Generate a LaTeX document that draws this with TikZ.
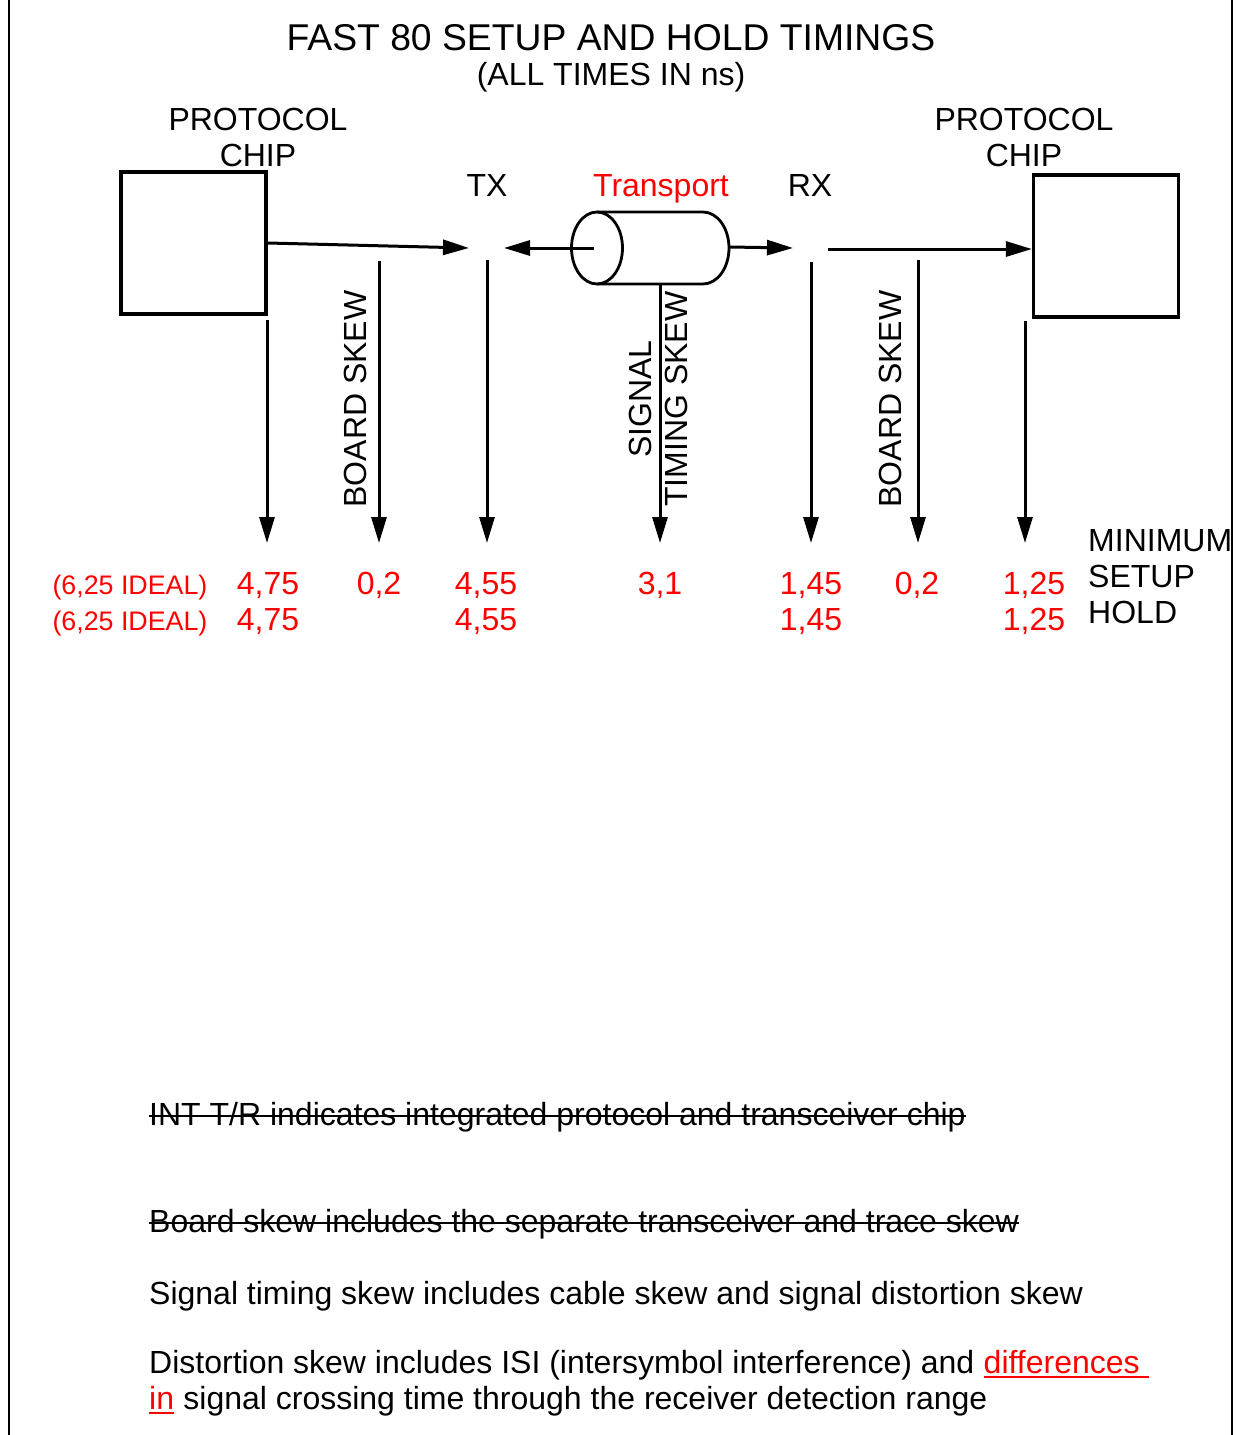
\documentclass[tikz,border=0pt]{standalone}
\usepackage{fontspec}
\setmainfont{Liberation Sans}
\usetikzlibrary{arrows.meta}
\begin{document}
\begin{tikzpicture}[x=1pt,y=-1pt,
  box/.style={draw, line width=3.2pt, minimum width=145pt, minimum height=142pt, inner sep=0pt},
  arr/.style={line width=3pt, -{Triangle[length=26pt,width=15pt]}},
  plain/.style={line width=2.8pt},
  lbl/.style={font=\fontsize{32}{36}\selectfont, inner sep=0pt},
  redlbl/.style={lbl, text=red},
  smallred/.style={font=\fontsize{26.8}{30}\selectfont, inner sep=0pt, text=red},
  titlelbl/.style={font=\fontsize{37.3}{42}\selectfont, inner sep=0pt},
  strike/.style={line width=2.8pt},
  uline/.style={line width=2.6pt, draw=red}
]
\useasboundingbox (0,0) rectangle (1236,1435);
% page borders
\draw[line width=2.2pt] (9,0) -- (9,1435);
\draw[line width=2.2pt] (1232,0) -- (1232,1435);

% titles
\node[titlelbl, anchor=base] (title) at (611,50) {FAST 80 SETUP AND HOLD TIMINGS};
\node[lbl, anchor=base] (subtitle) at (611,85) {(ALL TIMES IN ns)};

% chips
\node[box] (lbox) at (193.5,243) {};
\node[box] (rbox) at (1106,246) {};
\node[lbl, anchor=base] (lp) at (258,130) {PROTOCOL};
\node[lbl, anchor=base] (lc) at (258,166) {CHIP};
\node[lbl, anchor=base] (rp) at (1024,130) {PROTOCOL};
\node[lbl, anchor=base] (rc) at (1024,166) {CHIP};

\node[lbl, anchor=base] (tx) at (487,196) {TX};
\node[redlbl, anchor=base] (transport) at (661,196) {Transport};
\node[lbl, anchor=base] (rx) at (810,196) {RX};

% cylinder
\draw[plain] (597,248) ellipse [x radius=25.5pt, y radius=36pt];
\draw[plain] (597,212) -- (703,212) arc[start angle=90, end angle=-90, x radius=26pt, y radius=36pt] -- (597,284);
\coordinate (cylc) at (594,248);
\coordinate (cylr) at (729,247);
\coordinate (cylb) at (660,284);

% horizontal connectors
\coordinate (txin) at (469,248);
\coordinate (txleft) at (504,248);
\coordinate (rxin) at (793,248);
\coordinate (rxout) at (828,249);
\draw[arr] (lbox.east) -- (txin);
\draw[arr] (cylc) -- (txleft);
\draw[arr] (cylr) -- (rxin);
\draw[arr] (rxout) -- (rxout -| rbox.west);

% vertical arrows
\coordinate (s1) at (267,320);  \coordinate (e1) at (267,543);
\coordinate (s2) at (379,261);  \coordinate (e2) at (379,543);
\coordinate (s3) at (487,260);  \coordinate (e3) at (487,543);
\coordinate (e4) at (660,543);
\coordinate (s5) at (811,262);  \coordinate (e5) at (811,543);
\coordinate (s6) at (918,260);  \coordinate (e6) at (918,543);
\coordinate (s7) at (1025,321); \coordinate (e7) at (1025,543);
\draw[arr] (s1) -- (e1);
\draw[arr] (s2) -- (e2);
\draw[arr] (s3) -- (e3);
\draw[arr] (cylb) -- (e4);
\draw[arr] (s5) -- (e5);
\draw[arr] (s6) -- (e6);
\draw[arr] (s7) -- (e7);

% rotated labels
\node[lbl, rotate=90] (bs1) at (355.5,399) {BOARD SKEW};
\node[lbl, rotate=90] (bs2) at (890,399) {BOARD SKEW};
\node[lbl, rotate=90, align=center] (sts) at (658,399) {SIGNAL\\TIMING SKEW};

% values
\node[smallred, anchor=base] (id1) at (130,594) {(6,25 IDEAL)};
\node[smallred, anchor=base] (id2) at (130,630) {(6,25 IDEAL)};
\node[redlbl, anchor=base] (v1a) at (268,594) {4,75};
\node[redlbl, anchor=base] (v1b) at (268,630) {4,75};
\node[redlbl, anchor=base] (v2a) at (379,594) {0,2};
\node[redlbl, anchor=base] (v3a) at (486,594) {4,55};
\node[redlbl, anchor=base] (v3b) at (486,630) {4,55};
\node[redlbl, anchor=base] (v4a) at (660,594) {3,1};
\node[redlbl, anchor=base] (v5a) at (811,594) {1,45};
\node[redlbl, anchor=base] (v5b) at (811,630) {1,45};
\node[redlbl, anchor=base] (v6a) at (917,594) {0,2};
\node[redlbl, anchor=base] (v7a) at (1034,594) {1,25};
\node[redlbl, anchor=base] (v7b) at (1034,630) {1,25};
\node[lbl, anchor=base west] (mn) at (1088,551) {MINIMUM};
\node[lbl, anchor=base west] (su) at (1088,587) {SETUP};
\node[lbl, anchor=base west] (ho) at (1088,623) {HOLD};

% notes
\node[lbl, anchor=base west] (n1) at (149,1125) {INT T/R indicates integrated protocol and transceiver chip};
\draw[strike] ([yshift=9pt]n1.base west) -- ([yshift=9pt]n1.base east);
\node[lbl, anchor=base west] (n2) at (149,1232) {Board skew includes the separate transceiver and trace skew};
\draw[strike] ([yshift=9pt]n2.base west) -- ([yshift=9pt]n2.base east);
\node[lbl, anchor=base west] (n3) at (149,1304) {Signal timing skew includes cable skew and signal distortion skew};
\node[lbl, anchor=base west] (d1) at (149,1373) {Distortion skew includes ISI (intersymbol interference) and};
\node[redlbl, anchor=base west] (d2) at ([xshift=8.9pt]d1.base east) {differences};
\draw[uline] ([yshift=-4pt]d2.base west) -- ([yshift=-4pt,xshift=8.9pt]d2.base east);
\node[redlbl, anchor=base west] (d3) at (149,1409) {in};
\draw[uline] ([yshift=-4pt]d3.base west) -- ([yshift=-4pt]d3.base east);
\node[lbl, anchor=base west] (d4) at ([xshift=8.9pt]d3.base east) {signal crossing time through the receiver detection range};
\end{tikzpicture}
\end{document}
